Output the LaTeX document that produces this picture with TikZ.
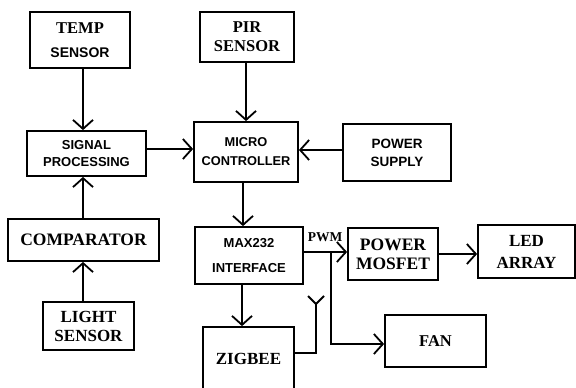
\documentclass[tikz,border=0pt]{standalone}
\usepackage{fontspec}
\setmainfont{Liberation Serif}
\setsansfont{Liberation Sans}
\usetikzlibrary{arrows.meta}
\begin{document}
\begin{tikzpicture}[x=1pt,y=-1pt,
 box/.style={draw,line width=1.8pt,align=center,inner sep=0pt},
 arr/.style={line width=1.8pt,-{Straight Barb[length=9pt,width=20pt]}},
 wire/.style={line width=1.8pt}]
\useasboundingbox (0,0) rectangle (576,388);
\fill[white] (0,0) rectangle (576,388);
\node[box,minimum width=100pt,minimum height=56pt,font=\bfseries\fontsize{16.5}{24}\selectfont] (temp) at (80,40) {TEMP\\\sffamily\fontsize{14}{24}\selectfont SENSOR};
\node[box,minimum width=119pt,minimum height=45pt,font=\sffamily\bfseries\fontsize{13}{17}\selectfont] (sig) at (86.5,153.5) {SIGNAL\\PROCESSING};
\node[box,minimum width=151pt,minimum height=42pt,font=\bfseries\fontsize{17.5}{20}\selectfont] (comp) at (83.5,240) {COMPARATOR};
\node[box,minimum width=91pt,minimum height=48pt,font=\bfseries\fontsize{17}{19}\selectfont] (light) at (88.5,326) {LIGHT\\SENSOR};
\node[box,minimum width=94pt,minimum height=50pt,font=\bfseries\fontsize{16.5}{19}\selectfont] (pir) at (247,37) {PIR\\SENSOR};
\node[box,minimum width=104pt,minimum height=60pt,font=\sffamily\bfseries\fontsize{12.8}{19}\selectfont] (micro) at (246,152) {MICRO\\CONTROLLER};
\node[box,minimum width=108pt,minimum height=57pt,font=\sffamily\bfseries\fontsize{13.5}{18}\selectfont] (psu) at (397,152.5) {POWER\\SUPPLY};
\node[box,minimum width=108pt,minimum height=57pt,font=\sffamily\bfseries\fontsize{13}{25}\selectfont] (max) at (249,255.5) {MAX232\\INTERFACE};
\node[box,minimum width=91pt,minimum height=64pt,font=\bfseries\fontsize{17}{20}\selectfont,text depth=0pt] (zig) at (248.5,359) {ZIGBEE};
\node[box,minimum width=90pt,minimum height=52pt,font=\bfseries\fontsize{17.5}{19}\selectfont] (mos) at (393,254) {POWER\\MOSFET};
\node[box,minimum width=97pt,minimum height=53pt,font=\bfseries\fontsize{17}{22}\selectfont] (led) at (526.5,251.5) {LED\\ARRAY};
\node[box,minimum width=101pt,minimum height=52pt,font=\bfseries\fontsize{16.5}{20}\selectfont] (fan) at (435.5,341) {FAN};
\node[font=\bfseries\fontsize{13.5}{15}\selectfont,inner sep=0pt] (pwm) at (325,237) {PWM};
% connectors
\draw[arr] ([xshift=3pt]temp.south) -- ([xshift=3pt]temp.south |- sig.north);
\draw[arr] ([xshift=-0.5pt]comp.north) -- ([xshift=-0.5pt]comp.north |- sig.south);
\draw[arr] ([xshift=-5.5pt]light.north) -- ([xshift=-5.5pt]light.north |- comp.south);
\draw[arr] ([yshift=4.5pt]sig.east) -- ([yshift=4.5pt]sig.east -| micro.west);
\draw[arr] (pir.south -| micro.north) -- (micro.north);
\draw[arr] ([yshift=2.5pt]psu.west) -- ([yshift=2.5pt]psu.west -| micro.east);
\draw[arr] ([xshift=-3pt]micro.south) -- ([xshift=-3pt]micro.south |- max.north);
\draw[arr] ([xshift=-7pt]max.south) -- ([xshift=-7pt]max.south |- zig.north);
\draw[arr] ([yshift=3.5pt]max.east) -- ([yshift=3.5pt]max.east -| mos.west);
\coordinate (br) at (331,252);
\coordinate (fb) at (331,344);
\draw[arr] (br) -- (fb) -- (fb -| fan.west);
\draw[arr] (mos.east) -- (mos.east -| led.west);
\coordinate (ant) at (316,304);
\draw[wire] ([yshift=6pt]zig.east) -- ([yshift=6pt]zig.east -| ant) -- (ant);
\draw[wire] (ant) -- ++(-8,-8);
\draw[wire] (ant) -- ++(8,-8);
\end{tikzpicture}
\end{document}
